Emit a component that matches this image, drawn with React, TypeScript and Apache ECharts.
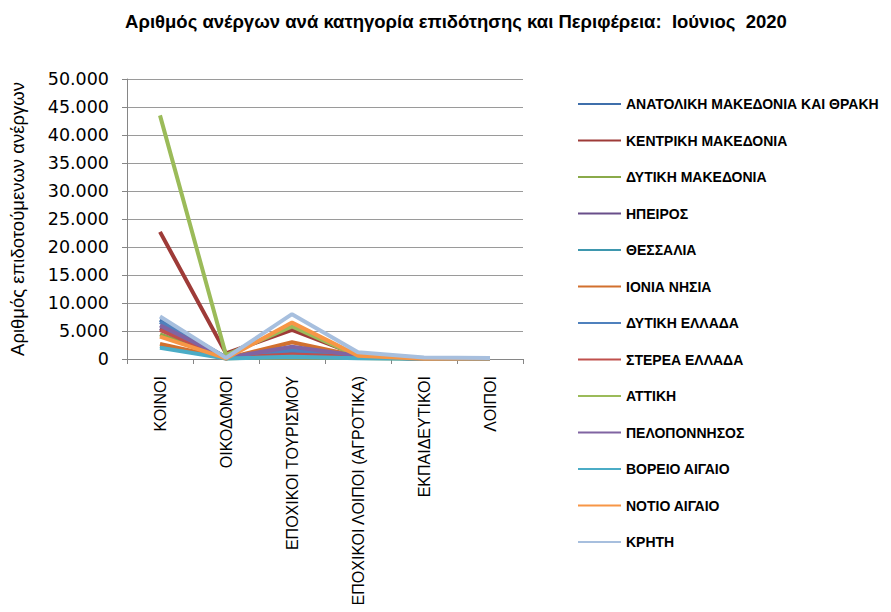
import React, { useEffect, useRef } from "react";
import * as echarts from "echarts";

const categories = [
  "ΚΟΙΝΟΙ",
  "ΟΙΚΟΔΟΜΟΙ",
  "ΕΠΟΧΙΚΟΙ ΤΟΥΡΙΣΜΟΥ",
  "ΕΠΟΧΙΚΟΙ ΛΟΙΠΟΙ (ΑΓΡΟΤΙΚΑ)",
  "ΕΚΠΑΙΔΕΥΤΙΚΟΙ",
  "ΛΟΙΠΟΙ",
];

const regions = [
  "ΑΝΑΤΟΛΙΚΗ ΜΑΚΕΔΟΝΙΑ ΚΑΙ ΘΡΑΚΗ",
  "ΚΕΝΤΡΙΚΗ ΜΑΚΕΔΟΝΙΑ",
  "ΔΥΤΙΚΗ ΜΑΚΕΔΟΝΙΑ",
  "ΗΠΕΙΡΟΣ",
  "ΘΕΣΣΑΛΙΑ",
  "ΙΟΝΙΑ ΝΗΣΙΑ",
  "ΔΥΤΙΚΗ ΕΛΛΑΔΑ",
  "ΣΤΕΡΕΑ ΕΛΛΑΔΑ",
  "ΑΤΤΙΚΗ",
  "ΠΕΛΟΠΟΝΝΗΣΟΣ",
  "ΒΟΡΕΙΟ ΑΙΓΑΙΟ",
  "ΝΟΤΙΟ ΑΙΓΑΙΟ",
  "ΚΡΗΤΗ",
];

const anatolikiMakedonia = [7000, 250, 1200, 350, 100, 120];
const kentrikiMakedonia = [22700, 1000, 5200, 700, 150, 180];
const dytikiMakedonia = [4400, 150, 300, 200, 50, 60];
const ipeiros = [5500, 150, 1800, 400, 60, 80];
const thessalia = [2300, 200, 500, 400, 80, 100];
const ioniaNisia = [2700, 100, 3000, 500, 40, 60];
const dytikiEllada = [6600, 250, 1500, 450, 90, 110];
const stereaEllada = [5200, 200, 800, 350, 70, 90];
const attiki = [43500, 700, 5800, 500, 200, 200];
const peloponnisos = [6000, 200, 2200, 600, 80, 100];
const voreioAigaio = [2000, 80, 400, 150, 30, 40];
const notioAigaio = [4000, 100, 6500, 600, 60, 80];
const kriti = [7600, 200, 8000, 1200, 250, 200];

const seriesValues = [
  anatolikiMakedonia,
  kentrikiMakedonia,
  dytikiMakedonia,
  ipeiros,
  thessalia,
  ioniaNisia,
  dytikiEllada,
  stereaEllada,
  attiki,
  peloponnisos,
  voreioAigaio,
  notioAigaio,
  kriti,
];

const colors = [
  "#3F6FAB",
  "#9E3B38",
  "#8AAA4A",
  "#694F8A",
  "#3E97AE",
  "#D2702E",
  "#4F81BD",
  "#C0504D",
  "#9BBB59",
  "#8064A2",
  "#4BACC6",
  "#F79646",
  "#A7BFDE",
];

const yTicks = { min: 0, max: 50000, interval: 5000 };

function fmt(v: number): string {
  return String(Math.round(v)).replace(/\B(?=(\d{3})+(?!\d))/g, ".");
}

export default function App() {
  const ref = useRef<HTMLDivElement>(null);
  useEffect(() => {
    if (!ref.current) return;
    const chart = echarts.init(ref.current, null, { renderer: "svg" });
    chart.setOption({
      animation: false,
      backgroundColor: "#ffffff",
      color: colors,
      title: {
        text: "Αριθμός ανέργων ανά κατηγορία επιδότησης και Περιφέρεια:  Ιούνιος  2020",
        left: 451,
        textAlign: "center",
        top: 7,
        textStyle: {
          fontFamily: "Liberation Sans",
          fontSize: 18.5,
          fontWeight: "bold",
          color: "#000",
        },
      },
      legend: {
        orient: "vertical",
        left: 578,
        top: 96,
        padding: 0,
        itemWidth: 43,
        itemHeight: 16,
        itemGap: 20.5,
        icon: "path://M0,0 L43,0 L43,2 L0,2 Z",
        data: regions,
        textStyle: {
          fontFamily: "Liberation Sans",
          fontSize: 14,
          lineHeight: 16,
          fontWeight: "bold",
          color: "#000",
        },
      },
      grid: { left: 127, right: 368, top: 79, bottom: 253, containLabel: false },
      xAxis: {
        type: "category",
        data: categories,
        boundaryGap: true,
        axisLine: { lineStyle: { color: "#868686", width: 1 } },
        axisTick: { show: true, length: 5, lineStyle: { color: "#868686" } },
        axisLabel: {
          rotate: 90,
          interval: 0,
          margin: 17,
          fontFamily: "Liberation Sans",
          fontSize: 16,
          color: "#000",
        },
      },
      yAxis: {
        type: "value",
        min: yTicks.min,
        max: yTicks.max,
        interval: yTicks.interval,
        name: "Αριθμός επιδοτούμενων ανέργων",
        nameLocation: "middle",
        nameGap: 100,
        nameTextStyle: {
          fontFamily: "Liberation Sans",
          fontSize: 18.5,
          color: "#000",
        },
        axisLine: { show: true, lineStyle: { color: "#868686", width: 1 } },
        axisTick: { show: true, length: 5, lineStyle: { color: "#868686" } },
        splitLine: { lineStyle: { color: "#9a9a9a", width: 1 } },
        axisLabel: {
          formatter: (v: number) => fmt(v),
          margin: 18,
          fontFamily: "DejaVu Sans",
          fontSize: 17.5,
          color: "#000",
        },
      },
      series: regions.map((name, i) => ({
        name,
        type: "line",
        data: seriesValues[i],
        symbol: "none",
        lineStyle: { width: 4, color: colors[i] },
        itemStyle: { color: colors[i] },
      })),
    });
    return () => chart.dispose();
  }, []);
  return <div ref={ref} style={{ width: 891, height: 612, margin: -8 }} />;
}
